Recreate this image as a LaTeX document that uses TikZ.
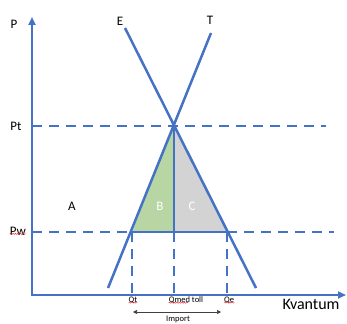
\documentclass[tikz,border=0pt]{standalone}
\usepackage{fontspec}
\setmainfont{Carlito}
\usetikzlibrary{arrows.meta,decorations.pathmorphing}
\definecolor{lineblue}{RGB}{68,114,196}
\definecolor{bgreen}{RGB}{183,214,164}
\definecolor{cgray}{RGB}{211,211,211}
\definecolor{wavyred}{RGB}{230,60,60}
\tikzset{
  curve/.style={draw=lineblue, line width=2.5pt},
  axis/.style={draw=lineblue, line width=2.5pt, -{Triangle[length=8pt,width=7pt]}},
  guide/.style={draw=lineblue, line width=2.2pt, dash pattern=on 10pt off 7pt},
  lbl/.style={font=\fontsize{13}{13}\selectfont, inner sep=0pt},
  small/.style={font=\fontsize{8.5}{8.5}\selectfont, inner sep=0pt},
  wavy/.style={draw=wavyred, line width=0.5pt, decorate, decoration={snake, amplitude=0.6pt, segment length=2.5pt}},
  imparrow/.style={draw=black!75, line width=0.7pt, {Triangle[length=4pt,width=4pt]}-{Triangle[length=4pt,width=4pt]}}
}
\begin{document}
\begin{tikzpicture}[x=1pt,y=-1pt]
\useasboundingbox (0,0) rectangle (347,323);
% coordinates
\coordinate (O) at (32,295);
\coordinate (ytop) at (32,17);
\coordinate (xend) at (346,295);
\coordinate (Etop) at (125,28);
\coordinate (Ebot) at (256,288);
\coordinate (Ttop) at (211,33);
\coordinate (Tbot) at (108,288);
\coordinate (X) at (174,126);
\coordinate (PtL) at (32,126);
\coordinate (PtR) at (326,126);
\coordinate (PwL) at (32,232);
\coordinate (PwR) at (334,232);
\coordinate (Qt) at (132,232);
\coordinate (Qm) at (174,232);
\coordinate (Qe) at (227,232);
\coordinate (Qt0) at (132,295);
\coordinate (Qm0) at (174,295);
\coordinate (Qe0) at (227,295);
\coordinate (impL) at (133,312);
\coordinate (impR) at (221,312);
% areas
\fill[bgreen] (Qt) -- (X) -- (Qm) -- cycle;
\fill[cgray] (X) -- (Qe) -- (Qm) -- cycle;
% guide lines
\draw[guide] (PtL) -- (PtR);
\draw[guide] (PwL) -- (Qt);
\draw[guide] (Qe) -- (PwR);
\draw[guide] (Qt) -- (Qt0);
\draw[guide] (Qm) -- (Qm0);
\draw[guide] (Qe) -- (Qe0);
% solid lines
\draw[curve] (Qt) -- (Qe);
\draw[curve] (X) -- (Qm);
\draw[curve] (Etop) -- (Ebot);
\draw[curve] (Ttop) -- (Tbot);
% axes
\draw[axis] (O) -- (ytop);
\draw[axis] ([xshift=-1.25pt]O) -- (xend);
% labels
\node[lbl] (P) at (14,24) {P};
\node[lbl] (Elbl) at (120,21) {E};
\node[lbl] (Tlbl) at (210,20) {T};
\node[lbl] (Pt) at (16,126) {Pt};
\node[lbl] (Pw) at (18,231) {Pw};
\node[lbl] (A) at (72,206) {A};
\node[lbl, text=white] (B) at (160,206) {B};
\node[lbl, text=white] (C) at (192,206) {C};
\node[font=\fontsize{16}{16}\selectfont, inner sep=0pt] (Kv) at (311,304) {Kvantum};
\node[small] (Qtl) at (133,300) {Qt};
\node[small] (Qml) at (186,300) {Qmed toll};
\node[small] (Qel) at (229,300) {Qe};
\node[small] (Imp) at (178,319) {Import};
\draw[imparrow] (impL) -- (impR);
% spell-check underlines
\draw[wavy] ([yshift=1.5pt]Pw.south west) -- ([yshift=1.5pt]Pw.south east);
\draw[wavy] ([yshift=1pt]Qtl.south west) -- ([yshift=1pt]Qtl.south east);
\draw[wavy] ([yshift=1pt]Qml.south west) -- ([yshift=1pt,xshift=-15pt]Qml.south east);
\draw[wavy] ([yshift=1pt]Qel.south west) -- ([yshift=1pt]Qel.south east);
\end{tikzpicture}
\end{document}
